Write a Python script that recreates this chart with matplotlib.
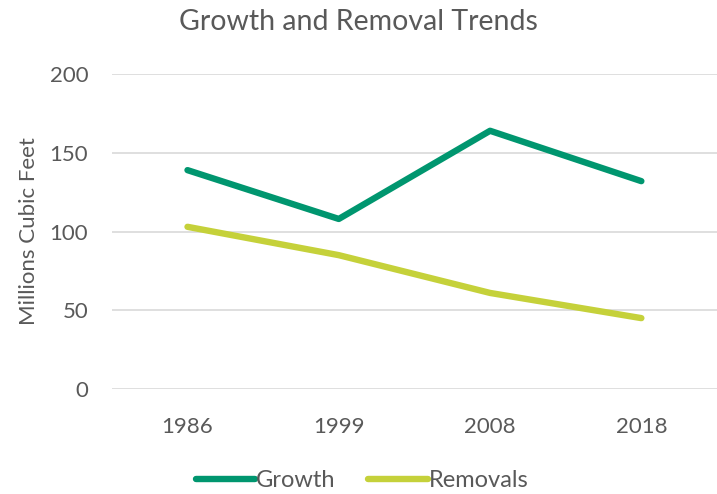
import matplotlib
matplotlib.use('Agg')
import matplotlib.pyplot as plt

plt.rcParams['font.family'] = ['Lato', 'DejaVu Sans']

years = ['1986', '1999', '2008', '2018']
growth = [139, 108, 164, 132]
removals = [103, 85, 61, 45]

text_color = '#595959'

fig = plt.figure(figsize=(7.17, 4.94), dpi=100)
ax = fig.add_axes([0.156, 0.2126, 0.844, 0.6374])

x = range(len(years))
ax.plot(x, growth, '-', color='#00966f', lw=4.6, solid_capstyle='round', label='Growth')
ax.plot(x, removals, '-', color='#c5d13a', lw=4.6, solid_capstyle='round', label='Removals')

ax.set_xlim(-0.5, 3.5)
ax.set_ylim(0, 200)
ax.set_yticks([0, 50, 100, 150, 200])
ax.set_xticks(list(x))
ax.set_xticklabels(years)
ax.grid(axis='y', color='#d9d9d9', lw=1.2)
ax.set_axisbelow(True)
for s in ax.spines.values():
    s.set_visible(False)
ax.tick_params(length=0, labelsize=16, colors=text_color)
ax.tick_params(axis='y', pad=17)
ax.tick_params(axis='x', pad=20)

ax.set_ylabel('Millions Cubic Feet', fontsize=16, color=text_color, labelpad=8)
fig.text(0.5, 0.955, 'Growth and Removal Trends', ha='center', va='center',
         fontsize=20.5, color=text_color)

fig.legend(loc='center', bbox_to_anchor=(0.505, 0.027), ncol=2, frameon=False,
           fontsize=17, handlelength=2.5, handletextpad=0.05, columnspacing=1.4,
           labelcolor=text_color)

fig.savefig('out.png', dpi=100)
